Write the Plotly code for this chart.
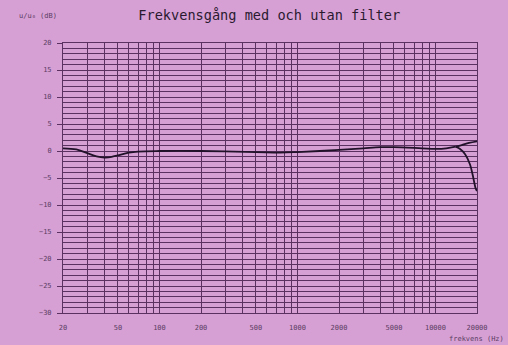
import plotly.graph_objects as go

# Shared part of the response (both curves overlap)
freq_common = [20, 25, 30, 35, 40, 45, 50, 60, 70, 100, 200, 500, 750, 1000, 2000, 3000, 4000, 5000, 8000, 10000, 12000, 14000]
db_common = [0.5, 0.3, -0.4, -1.0, -1.2, -1.1, -0.8, -0.3, -0.1, 0.0, 0.0, -0.2, -0.3, -0.2, 0.2, 0.5, 0.7, 0.7, 0.5, 0.4, 0.5, 0.8]

# Branch: curve rising at top end
freq_up = [14000, 15500, 17500, 20000]
db_up = [0.8, 1.1, 1.5, 1.8]

# Branch: curve falling at top end
freq_down = [14000, 15000, 16400, 17800, 18600, 19600, 20000]
db_down = [0.8, 0.4, -0.6, -2.5, -4.4, -7.0, -7.4]

grid_freqs = [m * 10 ** e for e in range(1, 5) for m in range(1, 10) if 20 <= m * 10 ** e <= 20000]
label_freqs = [20, 50, 100, 200, 500, 1000, 2000, 5000, 10000, 20000]
x_ticktext = [str(f) if f in label_freqs else "" for f in grid_freqs]

y_ticks = list(range(-30, 21, 5))

title_text = "Frekvensgång med och utan filter"
ylabel_text = "u/u\u2080 (dB)"
xlabel_text = "frekvens (Hz)"

bg = "#d7a0d5"
grid_col = "#5a3160"
line_col = "#21122a"
txt_col = "#5a3d62"

fig = go.Figure()
for fx, fy in [(freq_common, db_common), (freq_up, db_up), (freq_down, db_down)]:
    fig.add_trace(go.Scatter(x=fx, y=fy, mode="lines", line=dict(color=line_col, width=1.8, shape="spline"),
                             showlegend=False, hoverinfo="skip"))

fig.update_layout(
    width=508, height=345,
    margin=dict(l=63, r=31, t=43, b=32),
    paper_bgcolor=bg, plot_bgcolor=bg,
    font=dict(family="DejaVu Sans Mono", color=txt_col, size=7),
    showlegend=False,
    title=dict(text=title_text, x=0.53, xanchor="center", y=0.955, yanchor="middle",
               font=dict(family="DejaVu Sans Mono", size=13.6, color="#2a1a30")),
)
fig.update_xaxes(
    type="log", range=[1.30103, 4.30103],
    tickvals=grid_freqs, ticktext=x_ticktext, ticks="",
    showgrid=True, gridcolor=grid_col, gridwidth=1,
    showline=True, linecolor=grid_col, mirror=True, zeroline=False,
    tickfont=dict(size=7, color=txt_col), ticklabelstandoff=8,
)
fig.update_yaxes(
    range=[-30, 20], tickvals=y_ticks, ticks="outside", ticklen=5, tickcolor=grid_col,
    showgrid=True, gridcolor=grid_col, gridwidth=1,
    minor=dict(dtick=1, showgrid=True, gridcolor=grid_col, gridwidth=0.8),
    showline=True, linecolor=grid_col, mirror=True, zeroline=False,
    tickfont=dict(size=7, color=txt_col), ticklabelstandoff=4,
)
fig.add_annotation(text=ylabel_text, xref="paper", yref="paper", x=-0.11, y=1.1, showarrow=False,
                   xanchor="left", yanchor="middle", font=dict(size=7, color=txt_col))
fig.add_annotation(text=xlabel_text, xref="paper", yref="paper", x=1.07, y=-0.097, showarrow=False,
                   xanchor="right", yanchor="middle", font=dict(size=7, color=txt_col))

fig.write_html("out.html", config={"displayModeBar": False},
               post_script="document.body.style.margin='0';document.body.style.overflow='hidden';"
                           "document.body.style.background='#d7a0d5';")
